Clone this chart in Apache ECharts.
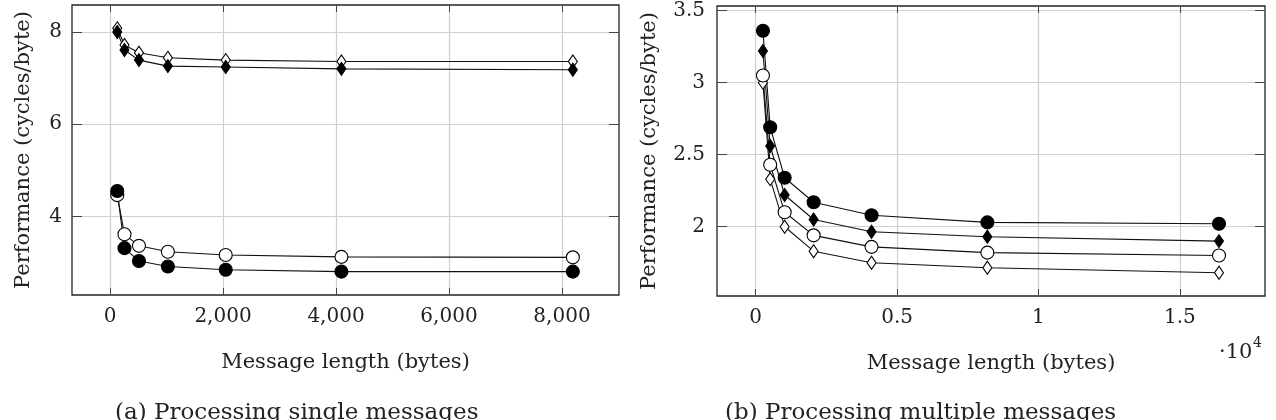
<!DOCTYPE html>
<html>
<head>
<meta charset="utf-8">
<script src="https://cdn.jsdelivr.net/npm/echarts@6/dist/echarts.min.js"></script>
<style>
  html, body { margin: 0; padding: 0; background: #fff; }
  #chart { width: 1276px; height: 420px; }
</style>
</head>
<body>
<div id="chart"></div>
<script>
// (a) single messages
const xSingle = [128, 256, 512, 1024, 2048, 4096, 8192];
const singleOpenDiamond = [8.08, 7.72, 7.55, 7.44, 7.39, 7.36, 7.36];
const singleFilledDiamond = [8.0, 7.61, 7.39, 7.26, 7.24, 7.20, 7.18];
const singleOpenCircle = [4.46, 3.61, 3.36, 3.23, 3.16, 3.12, 3.11];
const singleFilledCircle = [4.55, 3.31, 3.03, 2.91, 2.84, 2.80, 2.80];

// (b) multiple messages
const xMulti = [256, 512, 1024, 2048, 4096, 8192, 16384];
const multiFilledCircle = [3.36, 2.69, 2.34, 2.17, 2.08, 2.03, 2.02];
const multiFilledDiamond = [3.22, 2.56, 2.22, 2.05, 1.965, 1.93, 1.90];
const multiOpenCircle = [3.05, 2.43, 2.10, 1.94, 1.86, 1.82, 1.80];
const multiOpenDiamond = [3.0, 2.33, 2.0, 1.83, 1.75, 1.715, 1.68];

// ticks
const xTicksA = [0, 2000, 4000, 6000, 8000];
const yTicksA = [4, 6, 8];
const xTicksB = [0, 5000, 10000, 15000];
const yTicksB = [2, 2.5, 3, 3.5];

const FONT = 'DejaVu Serif';
const chart = echarts.init(document.getElementById('chart'));

const zip = (xs, ys) => xs.map((x, i) => [x, ys[i]]);

function mkSeries(name, xi, yi, xs, ys, symbol, filled) {
  const isCircle = symbol === 'circle';
  return {
    name, type: 'line', xAxisIndex: xi, yAxisIndex: yi,
    data: zip(xs, ys),
    symbol: isCircle ? 'circle' : 'diamond',
    symbolSize: isCircle ? 13 : [9, 13],
    showAllSymbol: true,
    lineStyle: { color: '#111', width: 1.1 },
    itemStyle: { color: filled ? '#000' : '#fff', borderColor: '#000', borderWidth: 1.1 },
    animation: false
  };
}

function xAx(gi, min, max, ticks, fmt, pos) {
  const main = pos === 'bottom';
  return {
    type: 'value', gridIndex: gi, position: pos, min, max,
    axisLine: { show: false, onZero: false },
    axisTick: { show: true, inside: true, length: 7, customValues: ticks, lineStyle: { color: '#444', width: 1 } },
    axisLabel: { show: main, customValues: ticks, formatter: fmt, margin: 12,
      fontFamily: FONT, fontSize: 20, color: '#222' },
    splitLine: { show: main, lineStyle: { color: '#cfcfcf', width: 1.2 } },
    name: main ? 'Message length (bytes)' : '',
    nameLocation: 'middle', nameGap: 57,
    nameTextStyle: { fontFamily: FONT, fontSize: 21, color: '#222' }
  };
}

function yAx(gi, min, max, ticks, pos, gap, margin) {
  const main = pos === 'left';
  return {
    type: 'value', gridIndex: gi, position: pos, min, max,
    axisLine: { show: false, onZero: false },
    axisTick: { show: true, inside: true, length: 10, customValues: ticks, lineStyle: { color: '#444', width: 1 } },
    axisLabel: { show: main, customValues: ticks, margin,
      fontFamily: FONT, fontSize: 20, color: '#222' },
    splitLine: { show: main, lineStyle: { color: '#cfcfcf', width: 1.2 } },
    name: main ? 'Performance (cycles/byte)' : '',
    nameLocation: 'middle', nameGap: gap,
    nameTextStyle: { fontFamily: FONT, fontSize: 21, color: '#222' }
  };
}

const option = {
  backgroundColor: '#fff',
  grid: [
    { left: 72, top: 5, width: 547, height: 290, show: true, borderColor: '#222', borderWidth: 1.3, backgroundColor: 'transparent' },
    { left: 717, top: 6, width: 548, height: 290, show: true, borderColor: '#222', borderWidth: 1.3, backgroundColor: 'transparent' }
  ],
  xAxis: [
    xAx(0, -673, 9009, xTicksA, v => v.toLocaleString('en-US'), 'bottom'),
    xAx(0, -673, 9009, xTicksA, null, 'top'),
    xAx(1, -1369, 18011, xTicksB, v => String(v / 10000), 'bottom'),
    xAx(1, -1369, 18011, xTicksB, null, 'top')
  ],
  yAxis: [
    yAx(0, 2.293, 8.586, yTicksA, 'left', 38, 10),
    yAx(0, 2.293, 8.586, yTicksA, 'right', 0, 10),
    yAx(1, 1.519, 3.532, yTicksB, 'left', 57, 12),
    yAx(1, 1.519, 3.532, yTicksB, 'right', 0, 12)
  ],
  series: [
    mkSeries('a-open-diamond', 0, 0, xSingle, singleOpenDiamond, 'diamond', false),
    mkSeries('a-filled-diamond', 0, 0, xSingle, singleFilledDiamond, 'diamond', true),
    mkSeries('a-open-circle', 0, 0, xSingle, singleOpenCircle, 'circle', false),
    mkSeries('a-filled-circle', 0, 0, xSingle, singleFilledCircle, 'circle', true),
    mkSeries('b-open-diamond', 2, 2, xMulti, multiOpenDiamond, 'diamond', false),
    mkSeries('b-open-circle', 2, 2, xMulti, multiOpenCircle, 'circle', false),
    mkSeries('b-filled-diamond', 2, 2, xMulti, multiFilledDiamond, 'diamond', true),
    mkSeries('b-filled-circle', 2, 2, xMulti, multiFilledCircle, 'circle', true)
  ],
  graphic: [
    { type: 'text', left: 1219, top: 342, style: { text: '·10', font: '21px "DejaVu Serif"', fill: '#222' } },
    { type: 'text', left: 1253, top: 336, style: { text: '4', font: '14px "DejaVu Serif"', fill: '#222' } },
    { type: 'text', left: 115, top: 402, style: { text: '(a) Processing single messages', font: '23px "DejaVu Serif"', fill: '#222' } },
    { type: 'text', left: 725, top: 402, style: { text: '(b) Processing multiple messages', font: '23px "DejaVu Serif"', fill: '#222' } }
  ]
};

chart.setOption(option);
</script>
</body>
</html>
